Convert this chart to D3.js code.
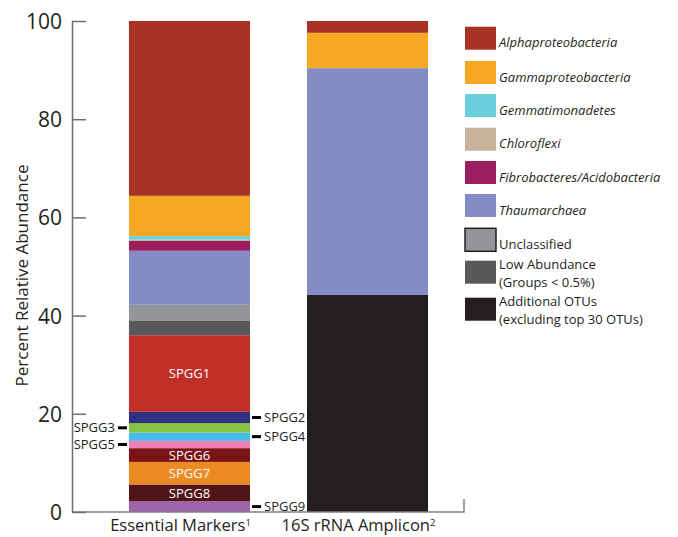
<!DOCTYPE html>
<html lang="en">
<head>
<meta charset="UTF-8">
<title>Percent Relative Abundance</title>
<script src="https://d3js.org/d3.v7.min.js"></script>
<style>
    body { margin: 0; background: #fff; }
    text { font-family: "Open Sans", "Noto Sans", sans-serif; fill: #231f20; }
</style>
</head>
<body>
<script>
    // bars
    const barNames = ["Essential Markers", "16S rRNA Amplicon"];
    const barSup = ["1", "2"];

    // segments, bottom to top
    const markerGroups = ["SPGG9", "SPGG8", "SPGG7", "SPGG6", "SPGG5", "SPGG4", "SPGG3", "SPGG2", "SPGG1",
        "Low Abundance", "Unclassified", "Thaumarchaea", "Fibrobacteres/Acidobacteria", "Chloroflexi",
        "Gemmatimonadetes", "Gammaproteobacteria", "Alphaproteobacteria"];
    const markerValues = [2.2, 3.4, 4.6, 2.8, 1.5, 1.7, 1.9, 2.3, 15.6, 2.9, 3.3, 11.0, 2.0, 0.3, 0.7, 8.2, 35.6];

    const ampliconGroups = ["Additional OTUs", "Thaumarchaea", "Gammaproteobacteria", "Alphaproteobacteria"];
    const ampliconValues = [44.2, 46.2, 7.2, 2.4];

    const yTicks = [0, 20, 40, 60, 80, 100];

    // legend
    const legendGroups = ["Alphaproteobacteria", "Gammaproteobacteria", "Gemmatimonadetes", "Chloroflexi",
        "Fibrobacteres/Acidobacteria", "Thaumarchaea", "Unclassified", "Low Abundance", "Additional OTUs"];
    const legendText = [["Alphaproteobacteria"], ["Gammaproteobacteria"], ["Gemmatimonadetes"], ["Chloroflexi"],
        ["Fibrobacteres/Acidobacteria"], ["Thaumarchaea"], ["Unclassified"],
        ["Low Abundance", "(Groups < 0.5%)"], ["Additional OTUs", "(excluding top 30 OTUs)"]];
    const legendItalic = [true, true, true, true, true, true, false, false, false];

    const colors = {
        "Alphaproteobacteria": "#a93226",
        "Gammaproteobacteria": "#f7a823",
        "Gemmatimonadetes": "#6ccfdc",
        "Chloroflexi": "#c8b29a",
        "Fibrobacteres/Acidobacteria": "#9b1f5e",
        "Thaumarchaea": "#858bc4",
        "Unclassified": "#939598",
        "Low Abundance": "#58595b",
        "Additional OTUs": "#231f20",
        "SPGG1": "#c22e28",
        "SPGG2": "#2e3182",
        "SPGG3": "#86c341",
        "SPGG4": "#45bce9",
        "SPGG5": "#ef7fb5",
        "SPGG6": "#7c1417",
        "SPGG7": "#ee8a24",
        "SPGG8": "#521517",
        "SPGG9": "#9e63a8"
    };

    // where SPGG labels go
    const labelSide = { SPGG1: "in", SPGG6: "in", SPGG7: "in", SPGG8: "in",
        SPGG2: "right", SPGG4: "right", SPGG9: "right", SPGG3: "left", SPGG5: "left" };

    let width = 678, height = 537;

    let svg = d3.select("body").append("svg")
        .attr("width", width)
        .attr("height", height);

    let y = d3.scaleLinear().domain([0, 100]).range([512, 21]);
    let x = d3.scaleBand().domain(barNames).range([72, 485]).paddingInner(0.32).paddingOuter(0.32);

    // build stacked segments
    function stackUp(bar, groups, values) {
        let acc = 0;
        return groups.map((g, i) => {
            let s = { bar: bar, key: g, y0: acc, y1: acc + values[i] };
            acc += values[i];
            return s;
        });
    }
    const segments = stackUp(barNames[0], markerGroups, markerValues)
        .concat(stackUp(barNames[1], ampliconGroups, ampliconValues));

    svg.append("g").selectAll("rect")
        .data(segments)
        .enter().append("rect")
        .attr("x", d => x(d.bar))
        .attr("width", x.bandwidth())
        .attr("y", d => y(d.y1))
        .attr("height", d => y(d.y0) - y(d.y1))
        .attr("fill", d => colors[d.key]);

    // bottom baseline
    svg.append("path")
        .attr("d", "M72," + y(0) + "H464V" + (y(0) - 13))
        .attr("fill", "none")
        .attr("stroke", "#808285")
        .attr("stroke-width", 1.5);

    // y axis, ticks pointing inward
    let yAxis = svg.append("g")
        .attr("transform", "translate(72,0)")
        .call(d3.axisLeft(y).tickValues(yTicks).tickSizeInner(-14).tickSizeOuter(0).tickPadding(10));
    yAxis.selectAll("path, line").attr("stroke", "#6d6e71").attr("stroke-width", 1.5);
    yAxis.selectAll("text")
        .style("font-size", "21px")
        .attr("dy", "0.36em");

    svg.append("text")
        .attr("transform", "translate(28," + (y(50) + 9) + ") rotate(-90)")
        .attr("text-anchor", "middle")
        .style("font-size", "17px")
        .text("Percent Relative Abundance");

    // SPGG labels
    const spgg = segments.filter(d => labelSide[d.key]);
    const x0 = x(barNames[0]);
    spgg.forEach(d => {
        let cy = (y(d.y0) + y(d.y1)) / 2;
        let side = labelSide[d.key];
        if (side === "in") {
            svg.append("text")
                .attr("x", x0 + x.bandwidth() / 2)
                .attr("y", cy)
                .attr("dy", "0.36em")
                .attr("text-anchor", "middle")
                .style("font-size", "13px")
                .style("fill", "#fff")
                .text(d.key);
        } else {
            let dashX = side === "right" ? x0 + x.bandwidth() + 2 : x0 - 11;
            svg.append("rect")
                .attr("x", dashX).attr("y", cy - 1.5)
                .attr("width", 9).attr("height", 3)
                .attr("fill", "#000");
            svg.append("text")
                .attr("x", side === "right" ? dashX + 12 : dashX - 3)
                .attr("y", cy)
                .attr("dy", "0.36em")
                .attr("text-anchor", side === "right" ? "start" : "end")
                .style("font-size", "13px")
                .text(d.key);
        }
    });

    // x labels
    barNames.forEach((b, i) => {
        let t = svg.append("text")
            .attr("x", x(b) + x.bandwidth() / 2 - 9)
            .attr("y", 531)
            .attr("text-anchor", "middle")
            .style("font-size", "16.5px")
            .text(b);
        t.append("tspan")
            .attr("dy", "-0.5em")
            .style("font-size", "9.5px")
            .text(barSup[i]);
    });

    // legend
    const legendTop = [26.7, 61, 94, 127.7, 161, 194, 228.3, 260.7, 297.7];
    let legend = svg.append("g").selectAll("g")
        .data(legendGroups)
        .enter().append("g")
        .attr("transform", (d, i) => "translate(465," + legendTop[i] + ")");

    legend.append("rect")
        .attr("width", 31)
        .attr("height", 23)
        .attr("fill", d => colors[d])
        .attr("stroke", d => d === "Unclassified" ? "#231f20" : "none")
        .attr("stroke-width", 1.5);

    legend.each(function (d, i) {
        let lines = legendText[i];
        let g = d3.select(this);
        lines.forEach((ln, j) => {
            g.append("text")
                .attr("x", 34)
                .attr("y", lines.length === 1 ? 16 : 4 + j * 17.5)
                .attr("dy", "0.36em")
                .style("font-size", "13px")
                .style("font-style", legendItalic[i] ? "italic" : "normal")
                .text(ln);
        });
    });
</script>
</body>
</html>
